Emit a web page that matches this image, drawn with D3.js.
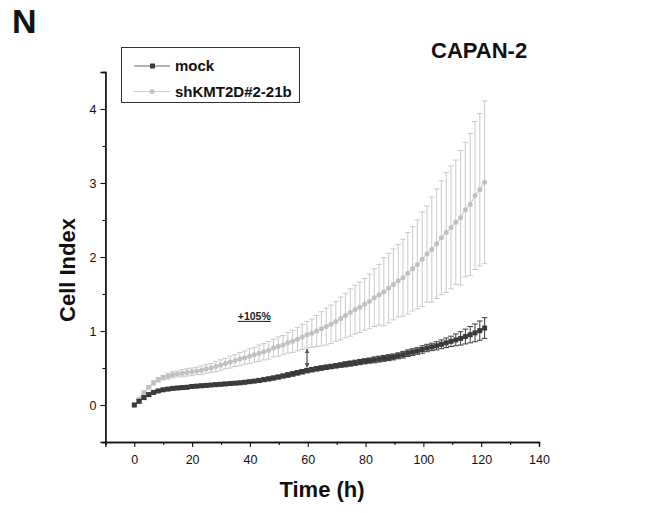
<!DOCTYPE html>
<html>
<head>
<meta charset="utf-8">
<script src="https://cdn.jsdelivr.net/npm/d3@7/dist/d3.min.js"></script>
<style>
  html, body { margin: 0; padding: 0; background: #fff; }
  svg { display: block; font-family: "Liberation Sans", Arial, sans-serif; }
</style>
</head>
<body>
<svg id="chart" width="654" height="513"></svg>
<script>
// ---- data ----
const timeH = [
  0, 1.66, 3.32, 4.98, 6.64, 8.30, 9.96, 11.62, 13.28, 14.94,
  16.60, 18.26, 19.92, 21.58, 23.24, 24.90, 26.56, 28.22, 29.88, 31.54,
  33.20, 34.86, 36.52, 38.18, 39.84, 41.50, 43.16, 44.82, 46.48, 48.14,
  49.80, 51.46, 53.12, 54.78, 56.44, 58.10, 59.76, 61.42, 63.08, 64.74,
  66.40, 68.06, 69.72, 71.38, 73.04, 74.70, 76.36, 78.02, 79.68, 81.34,
  83.00, 84.66, 86.32, 87.98, 89.64, 91.30, 92.96, 94.62, 96.28, 97.94,
  99.60, 101.26, 102.92, 104.58, 106.24, 107.90, 109.56, 111.22, 112.88, 114.54,
  116.20, 117.86, 119.52, 121.18
];
const mockMean = [
  0, 0.05, 0.10, 0.14, 0.17, 0.19, 0.205, 0.215, 0.225, 0.23,
  0.235, 0.24, 0.25, 0.255, 0.26, 0.265, 0.27, 0.275, 0.28, 0.285,
  0.29, 0.295, 0.30, 0.307, 0.315, 0.323, 0.332, 0.342, 0.353, 0.365,
  0.378, 0.392, 0.406, 0.42, 0.435, 0.45, 0.465, 0.478, 0.49, 0.50,
  0.51, 0.52, 0.53, 0.54, 0.55, 0.56, 0.57, 0.58, 0.59, 0.60,
  0.61, 0.62, 0.63, 0.64, 0.65, 0.665, 0.68, 0.70, 0.715, 0.73,
  0.75, 0.77, 0.785, 0.80, 0.82, 0.84, 0.86, 0.88, 0.90, 0.925,
  0.95, 0.975, 1.005, 1.04
];
const mockErr = [
  0, 0.02, 0.02, 0.02, 0.02, 0.02, 0.02, 0.02, 0.02, 0.02,
  0.02, 0.02, 0.02, 0.02, 0.02, 0.02, 0.02, 0.02, 0.02, 0.02,
  0.02, 0.02, 0.02, 0.02, 0.02, 0.02, 0.025, 0.025, 0.025, 0.025,
  0.025, 0.025, 0.03, 0.03, 0.03, 0.03, 0.03, 0.03, 0.03, 0.03,
  0.03, 0.03, 0.03, 0.03, 0.035, 0.035, 0.035, 0.035, 0.035, 0.035,
  0.04, 0.04, 0.04, 0.04, 0.04, 0.04, 0.045, 0.045, 0.045, 0.045,
  0.05, 0.05, 0.05, 0.055, 0.06, 0.065, 0.07, 0.08, 0.09, 0.10,
  0.11, 0.12, 0.13, 0.14
];
const shMean = [
  0, 0.08, 0.17, 0.24, 0.30, 0.34, 0.37, 0.39, 0.41, 0.42,
  0.43, 0.44, 0.45, 0.46, 0.47, 0.49, 0.50, 0.52, 0.54, 0.56,
  0.58, 0.60, 0.62, 0.64, 0.66, 0.68, 0.70, 0.72, 0.74, 0.77,
  0.79, 0.81, 0.84, 0.86, 0.89, 0.92, 0.95, 0.97, 1.00, 1.03,
  1.06, 1.09, 1.13, 1.17, 1.21, 1.25, 1.29, 1.32, 1.36, 1.40,
  1.45, 1.49, 1.53, 1.58, 1.63, 1.68, 1.72, 1.78, 1.84, 1.90,
  1.97, 2.04, 2.10, 2.18, 2.26, 2.33, 2.40, 2.47, 2.53, 2.64,
  2.71, 2.83, 2.91, 3.01
];
const shErr = [
  0, 0.01, 0.02, 0.02, 0.03, 0.03, 0.03, 0.04, 0.04, 0.04,
  0.05, 0.05, 0.05, 0.05, 0.06, 0.06, 0.06, 0.07, 0.07, 0.07,
  0.08, 0.08, 0.09, 0.09, 0.10, 0.10, 0.11, 0.11, 0.12, 0.12,
  0.13, 0.13, 0.14, 0.15, 0.16, 0.17, 0.18, 0.19, 0.21, 0.23,
  0.25, 0.26, 0.27, 0.29, 0.30, 0.32, 0.33, 0.34, 0.35, 0.37,
  0.39, 0.41, 0.46, 0.47, 0.48, 0.49, 0.52, 0.55, 0.57, 0.60,
  0.64, 0.65, 0.71, 0.74, 0.77, 0.81, 0.83, 0.84, 0.91, 0.91,
  0.96, 1.00, 1.03, 1.10
];
const seriesNames = ["mock", "shKMT2D#2-21b"];
const xTickValues = [0, 20, 40, 60, 80, 100, 120, 140];
const yTickValues = [0, 1, 2, 3, 4];
const annotationText = "+105%";
const annotationIndex = 36; // t ≈ 60 h
const chartTitle = "CAPAN-2";
const panelLabel = "N";
const xTitle = "Time (h)";
const yTitle = "Cell Index";

// ---- layout ----
const svg = d3.select("#chart");
const x = d3.scaleLinear().domain([-10, 140]).range([105.4, 539]);
const y = d3.scaleLinear().domain([-0.5, 4.5]).range([442, 72]);

const ink = "#111";
const mockColor = "#3a3a3a";
const shColor = "#c0c0c0";
const shErrColor = "#c9c9c9";

// axes
const xAxis = d3.axisBottom(x).tickValues(xTickValues).tickSize(5).tickPadding(4).tickFormat(d3.format("d"));
const xMinor = d3.axisBottom(x).tickValues(d3.range(-10, 141, 20)).tickSize(3).tickFormat("");
const yAxis = d3.axisLeft(y).tickValues(yTickValues).tickSize(5).tickPadding(4).tickFormat(d3.format("d"));
const yMinor = d3.axisLeft(y).tickValues([-0.5, 0.5, 1.5, 2.5, 3.5, 4.5]).tickSize(3).tickFormat("");

function styleAxis(g) {
  g.select(".domain").attr("stroke", ink).attr("stroke-width", 1.3);
  g.selectAll(".tick line").attr("stroke", ink).attr("stroke-width", 1.1);
  g.selectAll(".tick text").attr("fill", ink).style("font-size", "12.5px")
    .style("font-family", "'Liberation Sans', Arial, sans-serif");
}

svg.append("g").attr("transform", `translate(0,${y(-0.5)})`).call(xMinor).call(styleAxis);
svg.append("g").attr("transform", `translate(0,${y(-0.5)})`).call(xAxis).call(styleAxis)
  .selectAll(".tick text").attr("dy", "1.05em");
svg.append("g").attr("transform", `translate(${x(-10)},0)`).call(yMinor).call(styleAxis);
svg.append("g").attr("transform", `translate(${x(-10)},0)`).call(yAxis).call(styleAxis);

// data rows
const mockRows = timeH.map((t, i) => ({ t, v: mockMean[i], e: mockErr[i] }));
const shRows = timeH.map((t, i) => ({ t, v: shMean[i], e: shErr[i] }));

const line = d3.line().x(d => x(d.t)).y(d => y(d.v));

function drawErr(rows, color, width) {
  const g = svg.append("g").attr("stroke", color).attr("stroke-width", width).attr("fill", "none");
  rows.forEach(d => {
    if (d.e <= 0) return;
    const cx = x(d.t), y1 = y(d.v + d.e), y2 = y(d.v - d.e);
    g.append("line").attr("x1", cx).attr("x2", cx).attr("y1", y1).attr("y2", y2);
    g.append("line").attr("x1", cx - 2.8).attr("x2", cx + 2.8).attr("y1", y1).attr("y2", y1);
    g.append("line").attr("x1", cx - 2.8).attr("x2", cx + 2.8).attr("y1", y2).attr("y2", y2);
  });
}

// shKMT2D series (light gray circles)
drawErr(shRows, shErrColor, 1);
svg.append("path").datum(shRows).attr("d", line).attr("fill", "none").attr("stroke", shColor).attr("stroke-width", 1);
svg.append("g").selectAll("circle").data(shRows).join("circle")
  .attr("cx", d => x(d.t)).attr("cy", d => y(d.v)).attr("r", 2.5).attr("fill", shColor);

// mock series (dark squares)
drawErr(mockRows, mockColor, 1);
svg.append("path").datum(mockRows).attr("d", line).attr("fill", "none").attr("stroke", mockColor).attr("stroke-width", 1);
svg.append("g").selectAll("rect").data(mockRows).join("rect")
  .attr("x", d => x(d.t) - 2.5).attr("y", d => y(d.v) - 2.5).attr("width", 5).attr("height", 5).attr("fill", mockColor);

// difference arrow + annotation
const defs = svg.append("defs");
defs.append("marker").attr("id", "ah").attr("viewBox", "0 0 10 10").attr("refX", 9).attr("refY", 5)
  .attr("markerWidth", 4).attr("markerHeight", 4).attr("orient", "auto-start-reverse")
  .append("path").attr("d", "M0,0 L10,5 L0,10 Z").attr("fill", "#555");
const ai = annotationIndex;
svg.append("line")
  .attr("x1", x(timeH[ai])).attr("x2", x(timeH[ai]))
  .attr("y1", y(shMean[ai] - shErr[ai]) + 1).attr("y2", y(mockMean[ai] + mockErr[ai]) - 1)
  .attr("stroke", "#555").attr("stroke-width", 1.2)
  .attr("marker-start", "url(#ah)").attr("marker-end", "url(#ah)");
svg.append("text").attr("x", x(41.5)).attr("y", y(1.15))
  .attr("text-anchor", "middle").attr("fill", "#222")
  .style("font-size", "10.5px").style("font-weight", "bold").style("text-decoration", "underline")
  .text(annotationText);

// legend
const lg = svg.append("g");
lg.append("rect").attr("x", 121.5).attr("y", 47.5).attr("width", 178).attr("height", 55)
  .attr("fill", "#fff").attr("stroke", "#333").attr("stroke-width", 1);
const legendRows = [
  { name: seriesNames[0], color: "#666", mark: "rect", mc: mockColor, yy: 66 },
  { name: seriesNames[1], color: "#cfcfcf", mark: "circle", mc: shColor, yy: 91.5 }
];
legendRows.forEach(r => {
  lg.append("line").attr("x1", 134).attr("x2", 170).attr("y1", r.yy).attr("y2", r.yy)
    .attr("stroke", r.color).attr("stroke-width", 1.2);
  if (r.mark === "rect") {
    lg.append("rect").attr("x", 150).attr("y", r.yy - 2.5).attr("width", 5).attr("height", 5).attr("fill", r.mc);
  } else {
    lg.append("circle").attr("cx", 152).attr("cy", r.yy).attr("r", 2.5).attr("fill", r.mc);
  }
  lg.append("text").attr("x", 175).attr("y", r.yy + 5).attr("fill", ink)
    .style("font-size", "15px").style("font-weight", "bold").text(r.name);
});

// titles
svg.append("text").attr("x", 12).attr("y", 33).attr("fill", ink)
  .style("font-size", "34px").style("font-weight", "bold").text(panelLabel);
svg.append("text").attr("x", 431).attr("y", 58).attr("fill", ink)
  .style("font-size", "22px").style("font-weight", "bold").text(chartTitle);
svg.append("text").attr("x", 322).attr("y", 497).attr("text-anchor", "middle").attr("fill", ink)
  .style("font-size", "22px").style("font-weight", "bold").text(xTitle);
svg.append("text").attr("transform", `translate(75,270) rotate(-90)`).attr("text-anchor", "middle").attr("fill", ink)
  .style("font-size", "22px").style("font-weight", "bold").text(yTitle);
</script>
</body>
</html>
